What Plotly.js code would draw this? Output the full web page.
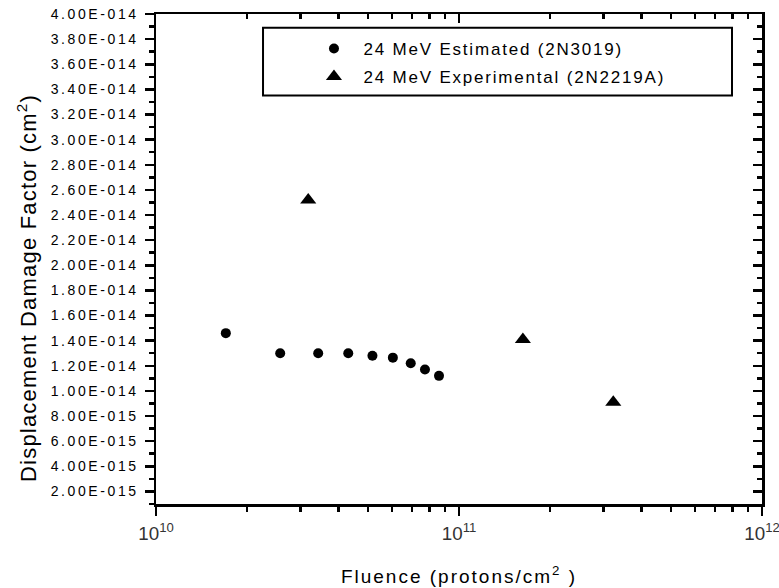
<!DOCTYPE html>
<html>
<head>
<meta charset="utf-8">
<script src="https://cdn.plot.ly/plotly-3.0.1.min.js"></script>
<style>
  html, body { margin: 0; padding: 0; background: #fff; }
  #chart { width: 779px; height: 588px; }
  .yaxislayer-above text, .ytick text { letter-spacing: 2.6px !important; }
  .legendtext { letter-spacing: 1.8px !important; }
  .g-xtitle text { letter-spacing: 2px !important; }
  .annotation-text { letter-spacing: 1.2px !important; }
</style>
</head>
<body>
<div id="chart"></div>
<script>
// ---- Data ----
const estName = '24 MeV Estimated (2N3019)';
const estFluence = [1.70e10, 2.57e10, 3.43e10, 4.31e10, 5.18e10, 6.05e10, 6.93e10, 7.72e10, 8.59e10];
const estDDF = [1.46e-14, 1.30e-14, 1.30e-14, 1.30e-14, 1.28e-14, 1.265e-14, 1.22e-14, 1.17e-14, 1.12e-14];

const expName = '24 MeV Experimental (2N2219A)';
const expFluence = [3.18e10, 1.625e11, 3.23e11];
const expDDF = [2.52e-14, 1.41e-14, 9.1e-15];

const yTickVals = [2e-15, 4e-15, 6e-15, 8e-15, 1e-14, 1.2e-14, 1.4e-14, 1.6e-14, 1.8e-14, 2e-14,
                   2.2e-14, 2.4e-14, 2.6e-14, 2.8e-14, 3e-14, 3.2e-14, 3.4e-14, 3.6e-14, 3.8e-14, 4e-14];
const yTickText = ['2.00E-015', '4.00E-015', '6.00E-015', '8.00E-015', '1.00E-014', '1.20E-014',
                   '1.40E-014', '1.60E-014', '1.80E-014', '2.00E-014', '2.20E-014', '2.40E-014',
                   '2.60E-014', '2.80E-014', '3.00E-014', '3.20E-014', '3.40E-014', '3.60E-014',
                   '3.80E-014', '4.00E-014'];

const xTitle = 'Fluence (protons/cm<sup>2</sup> )';
const yTitle = 'Displacement Damage Factor (cm<sup>2</sup>)';

// ---- Chart ----
const FONT = 'Arial, "Liberation Sans", sans-serif';
const xRange = [10, 12];
const yRange = [1e-15, 4e-14];

const traces = [
  {
    x: estFluence, y: estDDF, name: estName, type: 'scatter', mode: 'markers',
    marker: { symbol: 'circle', size: 10, color: '#000' },
    legendgroup: 'a'
  },
  {
    x: expFluence, y: expDDF, name: expName, type: 'scatter', mode: 'markers',
    marker: { symbol: 'triangle-up', size: 14, color: '#000' },
    legendgroup: 'b'
  },
  { x: [], y: [], xaxis: 'x2', yaxis: 'y2', showlegend: false, hoverinfo: 'skip', type: 'scatter' }
];

const common = {
  showline: true, linewidth: 2.5, linecolor: '#000', showgrid: false, zeroline: false,
  tickcolor: '#000', tickwidth: 2.5
};

const layout = {
  width: 779, height: 588,
  margin: { l: 156, r: 17, t: 14, b: 84 },
  paper_bgcolor: '#fff', plot_bgcolor: '#fff',
  font: { family: FONT, color: '#000' },
  showlegend: true,
  legend: {
    x: 0.245, y: 0.9654, xanchor: 'left', yanchor: 'top',
    bgcolor: 'rgba(0,0,0,0)', borderwidth: 0,
    font: { family: FONT, size: 17, color: '#000' },
    traceorder: 'grouped', tracegroupgap: 3, itemwidth: 49
  },
  xaxis: Object.assign({}, common, {
    type: 'log', range: xRange, dtick: 1, exponentformat: 'power',
    ticks: 'outside', ticklen: 9, ticklabeloverflow: 'allow', ticklabelstandoff: 3,
    minor: { ticks: 'outside', ticklen: 5, dtick: 'D1', tickwidth: 2.5, tickcolor: '#000' },
    tickfont: { family: FONT, size: 15, color: '#333' },
    title: { text: xTitle, font: { family: FONT, size: 19, color: '#000' }, standoff: 27 }
  }),
  yaxis: Object.assign({}, common, {
    range: yRange, tickmode: 'array', tickvals: yTickVals, ticktext: yTickText,
    ticks: 'outside', ticklen: 9, ticklabelstandoff: 3,
    minor: { ticks: 'outside', ticklen: 5, dtick: 1e-15, tick0: 1e-15, tickwidth: 2.5, tickcolor: '#000' },
    tickfont: { family: FONT, size: 14, color: '#000' }
  }),
  xaxis2: Object.assign({}, common, {
    type: 'log', range: xRange, dtick: 1, overlaying: 'x', side: 'top', anchor: 'y2',
    ticks: 'inside', ticklen: 9, showticklabels: false,
    minor: { ticks: 'inside', ticklen: 5, dtick: 'D1', tickwidth: 2.5, tickcolor: '#000' }
  }),
  yaxis2: Object.assign({}, common, {
    range: yRange, overlaying: 'y', side: 'right', anchor: 'x2',
    tickmode: 'array', tickvals: yTickVals,
    ticks: 'inside', ticklen: 9, showticklabels: false,
    minor: { ticks: 'inside', ticklen: 5, dtick: 1e-15, tick0: 1e-15, tickwidth: 2.5, tickcolor: '#000' }
  }),
  annotations: [
    { text: yTitle, xref: 'paper', yref: 'paper', x: -0.2129, y: 0.4408,
      xanchor: 'center', yanchor: 'middle', textangle: -90, showarrow: false,
      font: { family: FONT, size: 22, color: '#000' } }
  ],
  shapes: [
    { type: 'rect', xref: 'paper', yref: 'paper', x0: 0.1766, x1: 0.9505, y0: 0.8335, y1: 0.972,
      line: { color: '#000', width: 2 }, fillcolor: 'rgba(0,0,0,0)' }
  ]
};

Plotly.newPlot('chart', traces, layout, { displayModeBar: false, staticPlot: true }).then(function () {
  document.querySelectorAll('.ytick text').forEach(function (t) { t.style.letterSpacing = '2.6px'; });
});
</script>
</body>
</html>
